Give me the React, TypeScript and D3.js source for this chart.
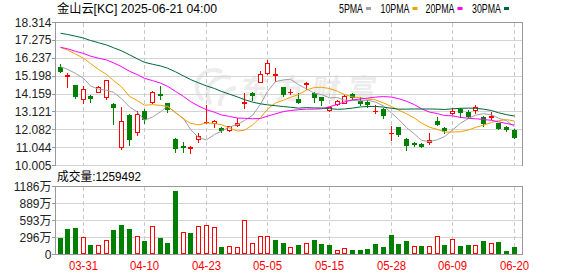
import React from "react";
import * as d3 from "d3";

const TITLE = "金山云[KC] 2025-06-21 04:00";
const VOLUME_LABEL = "成交量";
const LAST_VOLUME = 1259492;
const WATERMARK = "东方财富";

const DATES = ["03-26","03-27","03-28","03-31","04-01","04-02","04-03","04-04","04-07","04-08","04-09","04-10","04-11","04-14","04-15","04-16","04-17","04-21","04-22","04-23","04-24","04-25","04-28","04-29","04-30","05-01","05-02","05-05","05-06","05-07","05-08","05-09","05-12","05-13","05-14","05-15","05-16","05-19","05-20","05-21","05-22","05-23","05-27","05-28","05-29","05-30","06-02","06-03","06-04","06-05","06-06","06-09","06-10","06-11","06-12","06-13","06-16","06-17","06-18","06-20"];
const DATE_TICKS = ["03-31","04-10","04-23","05-05","05-15","05-28","06-09","06-20"];
const PRICE_TICKS = [18.314, 17.275, 16.237, 15.198, 14.159, 13.121, 12.082, 11.044, 10.005];
const VOLUME_TICKS = [1186, 889, 593, 296, 0];

const PREV_CLOSE = 16.06;
const OPEN = [15.72,15.20,14.65,13.82,14.01,14.26,13.94,13.55,11.03,12.91,11.90,13.16,13.65,14.13,13.59,11.50,11.11,10.98,11.52,12.50,12.43,12.14,12.04,12.31,13.62,14.20,14.85,15.37,15.26,14.52,14.24,13.84,14.74,14.17,13.94,13.20,13.53,13.62,14.13,13.72,13.66,13.15,13.24,11.84,12.19,11.51,11.28,11.21,11.34,12.56,12.14,13.01,13.24,13.07,13.20,12.78,12.80,12.43,12.23,12.04];
const HIGH = [15.87,15.37,14.68,14.60,14.07,14.60,14.96,13.59,13.39,12.95,13.16,13.24,14.30,14.60,13.62,11.56,11.36,11.11,11.85,13.49,12.62,12.19,12.27,12.72,14.20,14.26,15.47,16.11,15.66,14.56,14.40,14.17,14.85,14.26,13.97,13.40,13.78,14.07,14.17,13.97,13.78,13.49,13.30,12.27,12.22,11.56,11.36,11.26,11.89,12.78,12.23,13.30,13.30,13.20,13.49,12.85,13.10,12.46,12.27,12.10];
const LOW = [15.43,14.55,13.88,13.59,13.68,14.26,13.84,12.39,10.92,11.17,11.75,12.43,13.59,13.84,13.10,10.78,10.78,10.72,11.33,12.43,12.19,11.94,12.00,12.27,13.30,13.78,14.81,15.29,14.90,14.01,14.13,13.62,14.40,13.68,13.49,13.15,13.49,13.58,13.82,13.49,13.36,13.04,12.72,11.46,11.69,10.88,11.11,11.07,11.21,12.33,11.84,12.97,12.82,12.75,13.04,12.27,12.67,12.11,11.98,11.60];
const CLOSE = [15.48,15.25,14.01,14.40,13.88,14.52,14.94,13.40,12.56,11.50,12.95,12.66,14.26,14.06,13.24,10.98,11.06,11.03,11.69,12.52,12.58,12.04,12.25,12.43,13.66,14.07,15.28,15.95,15.30,14.13,14.27,13.68,14.78,13.97,13.78,13.36,13.72,14.01,13.94,13.62,13.57,13.17,12.91,11.87,11.80,11.17,11.25,11.13,11.46,12.39,12.04,13.16,13.10,12.85,13.36,12.46,12.83,12.15,12.08,11.61];
// volume in 万 shares
const VOLUME = [283,440,457,295,162,156,249,422,509,440,312,220,486,283,197,1099,388,373,489,503,469,127,139,122,590,197,312,312,249,197,127,162,191,249,180,162,69,104,75,75,93,180,127,336,180,232,139,139,139,312,162,260,139,156,156,232,191,214,58,125.9492];

const MA5 = [15.72,15.56,15.33,15.04,14.60,14.41,14.35,14.23,13.86,13.38,13.07,12.61,12.79,13.09,13.43,13.04,12.72,12.07,11.60,11.46,11.78,11.97,12.22,12.36,12.59,12.89,13.54,14.28,14.85,14.95,14.99,14.67,14.43,14.17,14.10,13.91,13.92,13.77,13.76,13.73,13.77,13.66,13.44,13.03,12.66,12.18,11.80,11.44,11.36,11.48,11.65,12.04,12.43,12.71,12.90,12.99,12.92,12.73,12.58,12.23];
const MA10 = [16.84,16.69,16.45,16.21,15.90,15.56,15.27,14.91,14.55,13.99,13.74,13.48,13.51,13.47,13.41,13.06,12.67,12.43,12.34,12.45,12.41,12.35,12.15,11.98,12.02,12.33,12.76,13.25,13.61,13.77,13.94,14.10,14.36,14.51,14.52,14.45,14.29,14.10,13.96,13.91,13.84,13.79,13.61,13.40,13.20,12.98,12.73,12.44,12.20,12.07,11.92,11.92,11.94,12.04,12.19,12.32,12.48,12.58,12.64,12.56];
const MA20 = [16.84,16.76,16.61,16.49,16.33,16.21,16.11,15.94,15.72,15.45,15.25,15.04,14.91,14.76,14.58,14.28,13.99,13.69,13.43,13.22,13.07,12.91,12.83,12.73,12.72,12.69,12.71,12.84,12.98,13.11,13.17,13.22,13.25,13.25,13.27,13.39,13.52,13.67,13.79,13.84,13.89,13.95,13.98,13.95,13.86,13.71,13.51,13.27,13.08,12.99,12.88,12.86,12.77,12.72,12.69,12.65,12.60,12.51,12.42,12.32];
const MA30 = [17.66,17.59,17.49,17.38,17.24,17.11,16.98,16.82,16.64,16.41,16.17,15.97,15.86,15.76,15.63,15.42,15.18,14.97,14.78,14.60,14.45,14.28,14.12,13.96,13.80,13.66,13.56,13.50,13.45,13.40,13.36,13.31,13.34,13.32,13.32,13.28,13.24,13.26,13.31,13.38,13.40,13.41,13.37,13.30,13.25,13.25,13.26,13.26,13.26,13.25,13.23,13.27,13.30,13.31,13.30,13.25,13.17,13.04,12.93,12.85];

const MA_NAMES = ["5PMA", "10PMA", "20PMA", "30PMA"];
const MA_COLORS = ["#a0a0a0", "#f0a000", "#ff00ff", "#006633"];

const RED = "#ff0000";
const GREEN = "#008000";
const GRID = "#d4d4d4";
const FRAME = "#999999";
const SANS = "'Liberation Sans', Arial, sans-serif";
const CJK = "'Liberation Sans', 'Noto Sans CJK SC', sans-serif";

export default function App() {
  const W = 578, H = 276;
  const L = 55, R = 522, PT = 22, PB = 165, VT = 186, VB = 254;

  const x = d3.scaleLinear().domain([0, DATES.length - 1]).range([59.6, 513.7]);
  const yP = d3.scaleLinear().domain([PRICE_TICKS[PRICE_TICKS.length - 1], PRICE_TICKS[0]]).range([PB, PT]);
  const yV = d3.scaleLinear().domain([0, VOLUME_TICKS[0]]).range([VB, VT]);
  const cx = (i: number) => Math.round(x(i)) + 0.5;

  const maSeries = [MA5, MA10, MA20, MA30];
  const lineGen = d3.line<number>().x((_, i) => cx(i)).y((d) => yP(d));

  const tickIdx = DATE_TICKS.map((t) => DATES.indexOf(t));

  const legendX = [339, 380.5, 425.5, 472];
  const legendW = [24, 29, 29, 29];

  return (
    <div style={{ position: "absolute", left: 0, top: 0 }}>
      <svg width={W} height={H} style={{ display: "block", background: "#fff" }}>
        {/* watermark */}
        <g opacity={1}>
          <g fill="none" stroke="#ececec" strokeWidth={4}>
            <path d="M203,100 A17,17 0 0 1 222,72" />
            <path d="M211,104 A17,17 0 0 1 231,78" />
            <path d="M220,106 A17,17 0 0 1 236,88" />
          </g>
          <text x={240} y={99} fontSize={28} fontWeight="bold" fill="#ececec"
            fontFamily="'Noto Sans CJK SC', sans-serif" letterSpacing={8}
            transform="skewX(-8) translate(13,0)">{WATERMARK}</text>
        </g>

        {/* price gridlines */}
        {PRICE_TICKS.map((t, k) => (
          <line key={"pg" + k} x1={L} x2={R} y1={Math.round(yP(t)) + 0.5} y2={Math.round(yP(t)) + 0.5}
            stroke={k === 0 ? FRAME : GRID} strokeWidth={1} />
        ))}
        {/* volume gridlines */}
        {VOLUME_TICKS.map((t, k) => (
          <line key={"vg" + k} x1={L} x2={R} y1={Math.round(yV(t)) + 0.5} y2={Math.round(yV(t)) + 0.5}
            stroke={k === 0 || t === 0 ? FRAME : GRID} strokeWidth={1} />
        ))}
        {/* vertical dashed gridlines */}
        {tickIdx.map((i, k) => (
          <g key={"vd" + k}>
            <line x1={cx(i)} x2={cx(i)} y1={PT + 1} y2={PB} stroke="#c8c8c8" strokeDasharray="4,3" />
            <line x1={cx(i)} x2={cx(i)} y1={VT + 1} y2={VB} stroke="#c8c8c8" strokeDasharray="4,3" />
          </g>
        ))}
        {/* frames */}
        <line x1={L + 0.5} x2={L + 0.5} y1={PT} y2={PB + 1} stroke={FRAME} />
        <line x1={R + 0.5} x2={R + 0.5} y1={PT} y2={PB + 1} stroke={FRAME} />
        <line x1={L + 0.5} x2={L + 0.5} y1={VT} y2={VB + 1} stroke={FRAME} />
        <line x1={R + 0.5} x2={R + 0.5} y1={VT} y2={VB + 1} stroke={FRAME} />

        {/* price axis labels */}
        {PRICE_TICKS.map((t, k) => (
          <g key={"pl" + k}>
            <line x1={52} x2={L} y1={Math.round(yP(t)) + 0.5} y2={Math.round(yP(t)) + 0.5} stroke={FRAME} />
            <text x={51.5} y={yP(t) + 4.5} textAnchor="end" fontSize={12} fontFamily={SANS} fill="#222">
              {t.toFixed(3)}
            </text>
          </g>
        ))}
        {/* volume axis labels */}
        {VOLUME_TICKS.map((t, k) => (
          <g key={"vl" + k}>
            <line x1={52} x2={L} y1={Math.round(yV(t)) + 0.5} y2={Math.round(yV(t)) + 0.5} stroke={FRAME} />
            <text x={51.5} y={yV(t) + 4.5} textAnchor="end" fontSize={12} fontFamily={CJK} fill="#222">
              {t === 0 ? "0" : t + "万"}
            </text>
          </g>
        ))}
        {/* date labels */}
        {tickIdx.map((i, k) => (
          <text key={"dl" + k} x={cx(i)} y={270} textAnchor="middle" fontSize={12} fontFamily={SANS}
            fill={RED} textLength={29} lengthAdjust="spacingAndGlyphs">{DATE_TICKS[k]}</text>
        ))}

        {/* candles */}
        {DATES.map((d, i) => {
          const o = OPEN[i], c = CLOSE[i], h = HIGH[i], l = LOW[i];
          const up = c >= o;
          const col = up ? RED : GREEN;
          const px = cx(i);
          const top = Math.round(yP(Math.max(o, c)));
          const bot = Math.round(yP(Math.min(o, c)));
          const yh = Math.round(yP(h));
          const yl = Math.round(yP(l));
          const bh = bot - top;
          return (
            <g key={"c" + i} shapeRendering="crispEdges">
              <line x1={px} x2={px} y1={yh} y2={yl + 1} stroke={col} />
              {bh < 1 ? (
                <line x1={px - 2.5} x2={px + 2.5} y1={top + 0.5} y2={top + 0.5} stroke={col} />
              ) : up ? (
                <rect x={px - 2} y={top + 0.5} width={4} height={bh} fill="#fff" stroke={col} />
              ) : (
                <rect x={px - 2.5} y={top} width={5} height={bh + 1} fill={col} />
              )}
            </g>
          );
        })}

        {/* moving averages */}
        {maSeries.map((s, k) => (
          <path key={"ma" + k} d={lineGen(s) || ""} fill="none" stroke={MA_COLORS[k]} strokeWidth={1} />
        ))}

        {/* volume bars */}
        {VOLUME.map((v, i) => {
          const prev = i === 0 ? PREV_CLOSE : CLOSE[i - 1];
          const up = CLOSE[i] >= prev;
          const px = cx(i);
          const top = Math.round(yV(v));
          return up ? (
            <rect key={"v" + i} x={px - 2} y={top + 0.5} width={4} height={Math.max(VB - top - 1, 0)}
              fill="#fff" stroke={RED} shapeRendering="crispEdges" />
          ) : (
            <rect key={"v" + i} x={px - 2.5} y={top} width={5} height={VB - top}
              fill={GREEN} shapeRendering="crispEdges" />
          );
        })}

        {/* titles */}
        <text x={57} y={13} fontSize={12} fontFamily={CJK} fill="#000" textLength={160}
          lengthAdjust="spacingAndGlyphs">{TITLE}</text>
        <text x={57} y={181} fontSize={12} fontFamily={CJK} fill="#000" textLength={84}
          lengthAdjust="spacingAndGlyphs">{VOLUME_LABEL + ":" + LAST_VOLUME}</text>

        {/* legend */}
        {MA_NAMES.map((n, k) => (
          <g key={"lg" + k}>
            <text x={legendX[k]} y={13} fontSize={12} fontFamily={SANS} fill="#000"
              textLength={legendW[k]} lengthAdjust="spacingAndGlyphs">{n}</text>
            <rect x={legendX[k] + legendW[k] + 3} y={7} width={5} height={3} fill={MA_COLORS[k]} />
          </g>
        ))}
      </svg>
    </div>
  );
}
